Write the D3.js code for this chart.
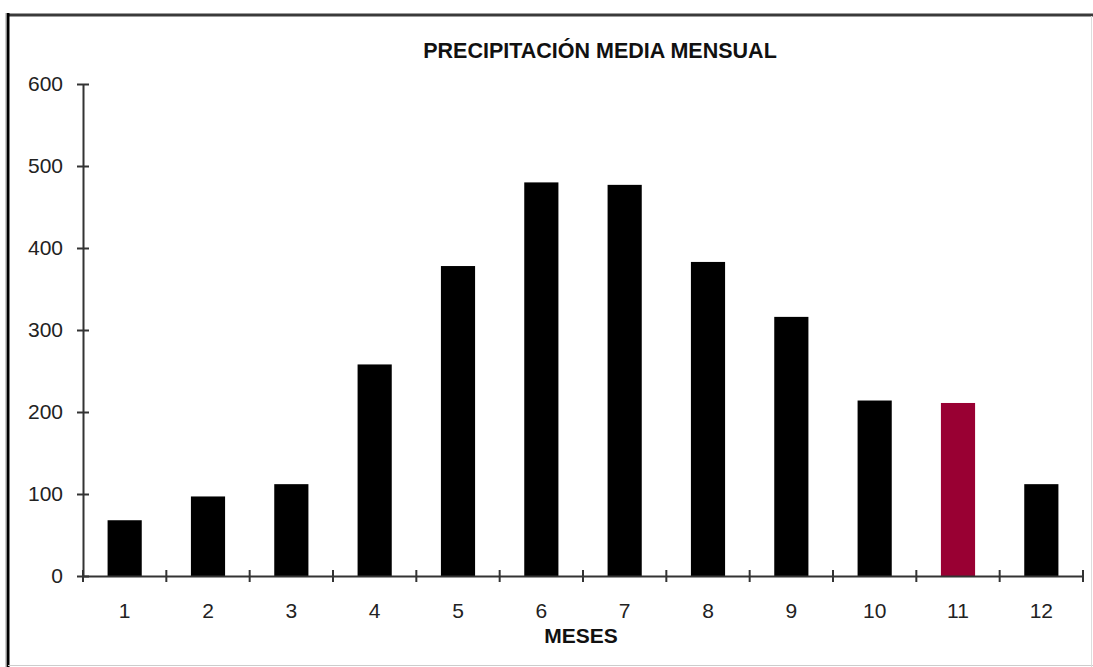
<!DOCTYPE html>
<html>
<head>
<meta charset="utf-8">
<script src="https://cdn.jsdelivr.net/npm/d3@7"></script>
<style>
  body { margin: 0; background: #fff; }
  .axis path, .axis line { stroke: #333; stroke-width: 2; }
  .axis text { font-family: "Liberation Sans", Arial, sans-serif; font-size: 21px; fill: #222; }
</style>
</head>
<body>
<div id="chart"></div>
<script>
var meses = ["1", "2", "3", "4", "5", "6", "7", "8", "9", "10", "11", "12"];
var precipitacion = [68, 97, 112, 258, 378, 480, 477, 383, 316, 214, 211, 112];
var yTicks = [0, 100, 200, 300, 400, 500, 600];
var destacado = "11";

var svgWidth = 1093, svgHeight = 667;
var margin = { top: 84, right: 10, bottom: 91, left: 83 };
var width = 1000;
var height = svgHeight - margin.top - margin.bottom;

var svg = d3.select("#chart").append("svg")
    .attr("width", svgWidth)
    .attr("height", svgHeight);

// frame around the picture
svg.append("line").attr("x1", 8).attr("x2", svgWidth).attr("y1", 15).attr("y2", 15)
    .attr("stroke", "#3a3a3a").attr("stroke-width", 3);
svg.append("line").attr("x1", 8).attr("x2", 8).attr("y1", 13).attr("y2", svgHeight)
    .attr("stroke", "#000").attr("stroke-width", 3);
svg.append("line").attr("x1", 6).attr("x2", 6).attr("y1", 13).attr("y2", svgHeight)
    .attr("stroke", "#999").attr("stroke-width", 1);
svg.append("line").attr("x1", 8).attr("x2", svgWidth).attr("y1", 665.5).attr("y2", 665.5)
    .attr("stroke", "#ccc").attr("stroke-width", 1);
svg.append("line").attr("x1", 1091.5).attr("x2", 1091.5).attr("y1", 16).attr("y2", svgHeight)
    .attr("stroke", "#ddd").attr("stroke-width", 1);

var g = svg.append("g")
    .attr("transform", "translate(" + margin.left + "," + margin.top + ")");

var x = d3.scaleBand()
    .domain(meses)
    .range([0, width])
    .paddingInner(0.59)
    .paddingOuter(0.295);

var y = d3.scaleLinear()
    .domain([0, 600])
    .range([height, 0]);

// Bars
g.selectAll("rect")
    .data(precipitacion)
    .enter()
    .append("rect")
    .attr("x", function(d, i) { return x(meses[i]); })
    .attr("width", x.bandwidth())
    .attr("y", function(d) { return y(d); })
    .attr("height", function(d) { return height - y(d); })
    .attr("fill", function(d, i) { return meses[i] === destacado ? "#990033" : "#000"; });

// Y axis
var yAxisGroup = g.append("g")
    .attr("class", "axis")
    .call(d3.axisLeft(y).tickValues(yTicks).tickSize(6).tickSizeOuter(0).tickPadding(14));
yAxisGroup.selectAll(".tick line").attr("x2", 6).attr("x1", -6);

// X axis, ticks on the band edges
var xAxisGroup = g.append("g")
    .attr("class", "axis")
    .attr("transform", "translate(0," + height + ")")
    .call(d3.axisBottom(x).tickSize(0).tickSizeOuter(0).tickPadding(27));

var edges = d3.range(meses.length + 1).map(function(i) { return i * x.step(); });
xAxisGroup.selectAll(".edge")
    .data(edges)
    .enter()
    .append("line")
    .attr("class", "edge")
    .attr("x1", function(d) { return d; })
    .attr("x2", function(d) { return d; })
    .attr("y1", -6)
    .attr("y2", 6);

// Titles
svg.append("text")
    .attr("x", 600)
    .attr("y", 58)
    .attr("text-anchor", "middle")
    .attr("font-family", "Liberation Sans, Arial, sans-serif")
    .attr("font-weight", "bold")
    .attr("font-size", "21.5px")
    .attr("fill", "#111")
    .text("PRECIPITACIÓN MEDIA MENSUAL");

svg.append("text")
    .attr("x", 581)
    .attr("y", 643)
    .attr("text-anchor", "middle")
    .attr("font-family", "Liberation Sans, Arial, sans-serif")
    .attr("font-weight", "bold")
    .attr("font-size", "21px")
    .attr("fill", "#111")
    .text("MESES");
</script>
</body>
</html>
